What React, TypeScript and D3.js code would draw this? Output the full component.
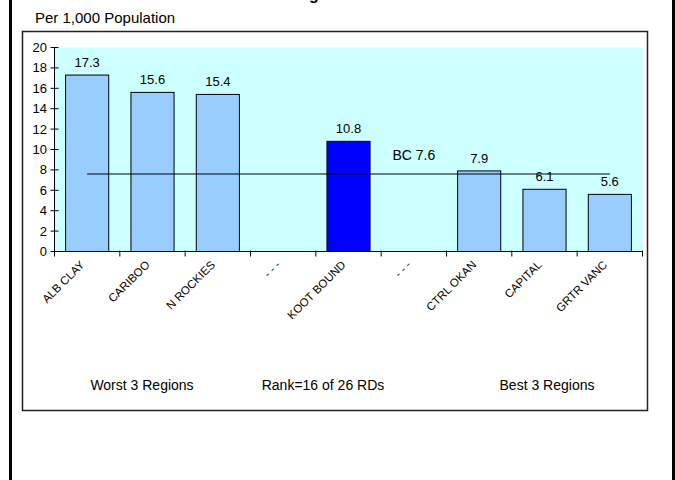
import React from "react";
import * as d3 from "d3";

const categories = ["ALB CLAY", "CARIBOO", "N ROCKIES", "- - -", "KOOT BOUND", "- - - ", "CTRL OKAN", "CAPITAL", "GRTR VANC"];
const values: (number | null)[] = [17.3, 15.6, 15.4, null, 10.8, null, 7.9, 6.1, 5.6];
const highlight = [false, false, false, false, true, false, false, false, false];
const yTicks = [0, 2, 4, 6, 8, 10, 12, 14, 16, 18, 20];
const bcValue = 7.6;
const bcLabel = "BC 7.6";
const groupLabels = ["Worst 3 Regions", "Rank=16 of 26 RDs", "Best 3 Regions"];
const groupCenters = [142, 323, 547];

const W = 675;
const H = 480;
const FONT = "'Liberation Sans', Arial, sans-serif";

export default function App() {
  const x = d3.scaleBand<string>().domain(categories).range([54.5, 642.5]).paddingInner(0.34).paddingOuter(0.17);
  const y = d3.scaleLinear().domain([0, 20]).range([251.5, 47.5]);
  const step = x.step();
  const x0 = x.range()[0];
  const boundaries = d3.range(categories.length + 1).map((i) => x0 + i * step);
  const firstC = (x(categories[0]) as number) + x.bandwidth() / 2;
  const lastC = (x(categories[categories.length - 1]) as number) + x.bandwidth() / 2;
  const bcC = (x(categories[5]) as number) + x.bandwidth() / 2;

  return (
    <svg width={W} height={H} style={{ position: "absolute", left: 0, top: 0, display: "block", background: "#fff" }} fontFamily={FONT}>
      <rect x={0} y={0} width={W} height={H} fill="#fff" />
      {/* clipped title */}
      <text x={314} y={-0.5} textAnchor="middle" fontSize={16} fontWeight="bold">g</text>
      {/* outer frame lines */}
      <rect x={9} y={0} width={3} height={H} fill="#000" />
      <rect x={672} y={0} width={3} height={H} fill="#000" />
      {/* subtitle */}
      <text x={35} y={23} fontSize={15}>Per 1,000 Population</text>
      {/* inner box */}
      <rect x={22.5} y={31.5} width={625} height={379} fill="#fff" stroke="#222" strokeWidth={1.5} />
      {/* plot area */}
      <rect x={x0} y={y(20)} width={x.range()[1] - x0} height={y(0) - y(20)} fill="#CCFFFF" />
      {/* bars */}
      {categories.map((c, i) => {
        const v = values[i];
        if (v == null) return null;
        const bx = x(c) as number;
        return (
          <rect key={c} x={bx} y={y(v)} width={x.bandwidth()} height={y(0) - y(v)} fill={highlight[i] ? "#0000FF" : "#99CCFF"} stroke="#000" strokeWidth={1} />
        );
      })}
      {/* BC line */}
      <line x1={firstC} x2={lastC} y1={y(bcValue)} y2={y(bcValue)} stroke="#000" strokeWidth={1.2} />
      {/* value labels */}
      {categories.map((c, i) => {
        const v = values[i];
        if (v == null) return null;
        const cx = (x(c) as number) + x.bandwidth() / 2;
        return (
          <text key={c} x={cx} y={y(v) - 8} textAnchor="middle" fontSize={13}>{v.toFixed(1)}</text>
        );
      })}
      <text x={bcC} y={y(bcValue) - 14} textAnchor="middle" fontSize={14}>{bcLabel}</text>
      {/* y axis */}
      <line x1={x0} x2={x0} y1={y(20)} y2={y(0)} stroke="#000" />
      {yTicks.map((t) => (
        <g key={t}>
          <line x1={x0 - 4} x2={x0 + 4} y1={y(t)} y2={y(t)} stroke="#000" />
          <text x={47} y={y(t) + 4.5} textAnchor="end" fontSize={13}>{t}</text>
        </g>
      ))}
      {/* x axis */}
      <line x1={x0} x2={x.range()[1]} y1={y(0)} y2={y(0)} stroke="#000" />
      {boundaries.map((b, i) => (
        <line key={i} x1={b} x2={b} y1={y(0) - 1} y2={y(0) + 5} stroke="#000" />
      ))}
      {categories.map((c) => {
        const cx = (x(c) as number) + x.bandwidth() / 2;
        return (
          <text key={c} transform={`translate(${cx - 2},${y(0) + 14}) rotate(-45)`} textAnchor="end" fontSize={11.5}>{c.trim()}</text>
        );
      })}
      {/* group labels */}
      {groupLabels.map((g, i) => (
        <text key={g} x={groupCenters[i]} y={390} textAnchor="middle" fontSize={14}>{g}</text>
      ))}
    </svg>
  );
}
